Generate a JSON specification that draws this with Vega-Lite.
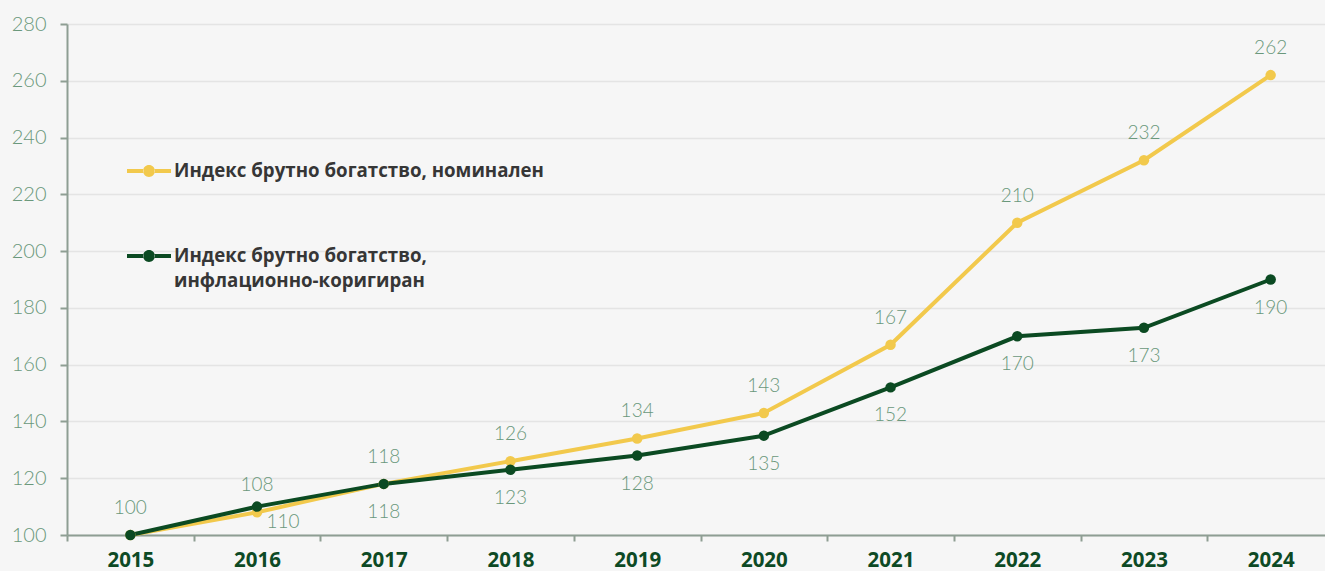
{
  "$schema": "https://vega.github.io/schema/vega-lite/v6.json",
  "autosize": {"type": "none"},
  "padding": {"left": 67, "top": 24, "right": 0, "bottom": 36},
  "width": 1258,
  "height": 511,
  "background": "#f6f6f6",
  "config": {
    "view": {"stroke": null},
    "font": "Lato"
  },
  "data": {
    "values": [
      {"year": "2015", "series": "Индекс брутно богатство, номинален", "value": 100},
      {"year": "2016", "series": "Индекс брутно богатство, номинален", "value": 108},
      {"year": "2017", "series": "Индекс брутно богатство, номинален", "value": 118},
      {"year": "2018", "series": "Индекс брутно богатство, номинален", "value": 126},
      {"year": "2019", "series": "Индекс брутно богатство, номинален", "value": 134},
      {"year": "2020", "series": "Индекс брутно богатство, номинален", "value": 143},
      {"year": "2021", "series": "Индекс брутно богатство, номинален", "value": 167},
      {"year": "2022", "series": "Индекс брутно богатство, номинален", "value": 210},
      {"year": "2023", "series": "Индекс брутно богатство, номинален", "value": 232},
      {"year": "2024", "series": "Индекс брутно богатство, номинален", "value": 262},
      {"year": "2015", "series": "Индекс брутно богатство, инфлационно-коригиран", "value": 100},
      {"year": "2016", "series": "Индекс брутно богатство, инфлационно-коригиран", "value": 110},
      {"year": "2017", "series": "Индекс брутно богатство, инфлационно-коригиран", "value": 118},
      {"year": "2018", "series": "Индекс брутно богатство, инфлационно-коригиран", "value": 123},
      {"year": "2019", "series": "Индекс брутно богатство, инфлационно-коригиран", "value": 128},
      {"year": "2020", "series": "Индекс брутно богатство, инфлационно-коригиран", "value": 135},
      {"year": "2021", "series": "Индекс брутно богатство, инфлационно-коригиран", "value": 152},
      {"year": "2022", "series": "Индекс брутно богатство, инфлационно-коригиран", "value": 170},
      {"year": "2023", "series": "Индекс брутно богатство, инфлационно-коригиран", "value": 173},
      {"year": "2024", "series": "Индекс брутно богатство, инфлационно-коригиран", "value": 190}
    ]
  },
  "encoding": {
    "x": {
      "field": "year", "type": "ordinal",
      "scale": {"type": "band", "paddingInner": 0, "paddingOuter": 0, "range": [0, 1267]},
      "axis": {
        "title": null, "labelAngle": 0, "tickBand": "extent",
        "domainColor": "#8e9e93", "domainWidth": 2, "tickColor": "#8e9e93", "tickWidth": 2, "tickSize": 6,
        "labelFont": "Open Sans", "labelFontWeight": "bold", "labelFontSize": 20.5, "labelColor": "#0d4a25", "labelPadding": 9
      }
    },
    "y": {
      "field": "value", "type": "quantitative",
      "scale": {"domain": [100, 280], "nice": false, "zero": false},
      "axis": {
        "title": null, "values": [100, 120, 140, 160, 180, 200, 220, 240, 260, 280],
        "domainColor": "#8e9e93", "domainWidth": 2, "tickColor": "#8e9e93", "tickWidth": 2, "tickSize": 7,
        "gridColor": "#e4e4e4", "gridWidth": 1.5,
        "labelFont": "Lato", "labelFontWeight": 300, "labelFontSize": 20, "labelColor": "#6a987b", "labelPadding": 14
      }
    },
    "color": {
      "field": "series", "type": "nominal",
      "scale": {
        "domain": ["Индекс брутно богатство, номинален", "Индекс брутно богатство, инфлационно-коригиран"],
        "range": ["#f2c94c", "#0b4a22"]
      },
      "legend": {
        "title": null, "orient": "none", "legendX": 60, "legendY": 125,
        "symbolType": "M-1,-0.09H-0.25V0.09H-1Z M0.25,-0.09H1V0.09H0.25Z M-0.27,0A0.27,0.27 0 1,0 0.27,0A0.27,0.27 0 1,0 -0.27,0Z",
        "symbolSize": 1936, "symbolStrokeWidth": 0,
        "labelFont": "Open Sans", "labelFontWeight": "bold", "labelFontSize": 18.7, "labelColor": "#363636",
        "labelLimit": 0, "labelOffset": 3, "rowPadding": 53,
        "labelExpr": "datum.label == 'Индекс брутно богатство, инфлационно-коригиран' ? ['Индекс брутно богатство,', 'инфлационно-коригиран'] : datum.label",
        "encode": {
          "symbols": {"update": {"fill": {"scale": "color", "field": "value"}, "stroke": {"value": "transparent"}}},
          "labels": {"update": {"lineHeight": {"value": 25}}}
        }
      }
    }
  },
  "layer": [
    {"mark": {"type": "line", "strokeWidth": 4}},
    {"mark": {"type": "point", "filled": true, "size": 110, "opacity": 1}},
    {
      "transform": [{"filter": "datum.series == 'Индекс брутно богатство, номинален'"}],
      "mark": {"type": "text", "dy": -27, "font": "Lato", "fontWeight": 300, "fontSize": 19},
      "encoding": {"text": {"field": "value", "type": "quantitative"}, "color": {"value": "#6a987b"}}
    },
    {
      "transform": [{"filter": "datum.series != 'Индекс брутно богатство, номинален' && datum.year != '2015' && datum.year != '2016'"}],
      "mark": {"type": "text", "dy": 28, "font": "Lato", "fontWeight": 300, "fontSize": 19},
      "encoding": {"text": {"field": "value", "type": "quantitative"}, "color": {"value": "#6a987b"}}
    },
    {
      "transform": [{"filter": "datum.series != 'Индекс брутно богатство, номинален' && datum.year == '2016'"}],
      "mark": {"type": "text", "dx": 26, "dy": 15, "font": "Lato", "fontWeight": 300, "fontSize": 19},
      "encoding": {"text": {"field": "value", "type": "quantitative"}, "color": {"value": "#6a987b"}}
    }
  ]
}
